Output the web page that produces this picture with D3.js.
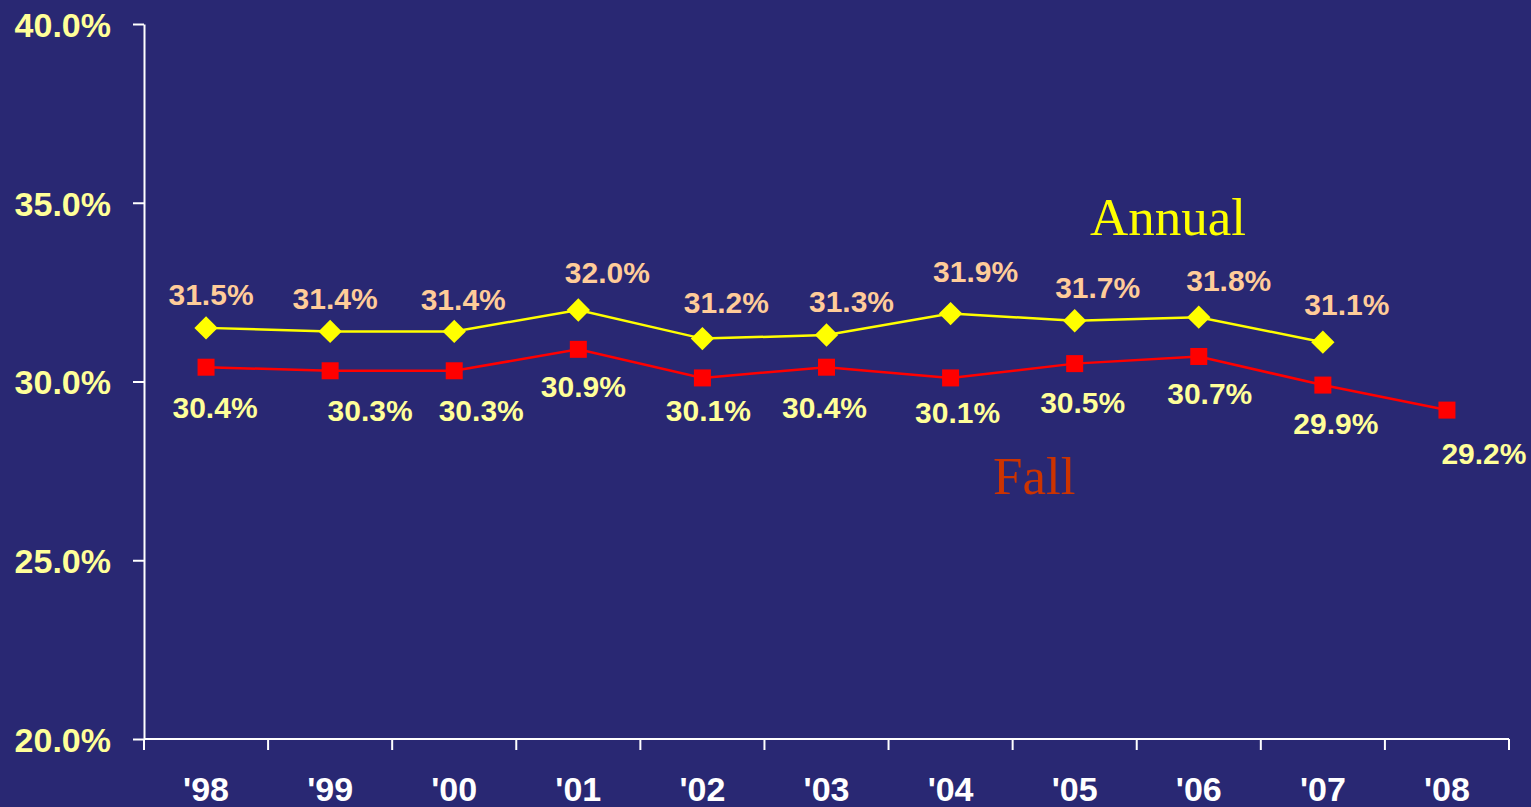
<!DOCTYPE html>
<html>
<head>
<meta charset="utf-8">
<script src="https://cdn.jsdelivr.net/npm/d3@7/dist/d3.min.js"></script>
<style>
  html, body { margin: 0; padding: 0; background: #292873; }
  svg { display: block; }
</style>
</head>
<body>
<svg id="chart" width="1531" height="807"></svg>
<script>
// ---- data ----
const years = ["'98", "'99", "'00", "'01", "'02", "'03", "'04", "'05", "'06", "'07", "'08"];
const annualValues = [31.5, 31.4, 31.4, 32.0, 31.2, 31.3, 31.9, 31.7, 31.8, 31.1, null];
const fallValues = [30.4, 30.3, 30.3, 30.9, 30.1, 30.4, 30.1, 30.5, 30.7, 29.9, 29.2];
const yTicks = [20, 25, 30, 35, 40];
const seriesNames = ["Annual", "Fall"];

// label nudges (styling, px)
const annualLabelDx = [5, 5, 9, 29, 24, 25, 25, 23, 30, 24];
const annualLabelDy = [-23, -22, -21, -27, -26, -23, -32, -23, -26, -27];
const fallLabelDx = [9, 40, 27, 5, 6, -2, 7, 8, 11, 13, 37];
const fallLabelDy = [51, 50, 50, 48, 43, 51, 45, 49, 48, 49, 54];

// ---- layout ----
const svg = d3.select("#chart");
const plotLeft = 144, plotRight = 1509, plotTop = 24, plotBottom = 739;

const x = d3.scaleBand().domain(years).range([plotLeft, plotRight]).padding(0);
const y = d3.scaleLinear().domain([20, 40]).range([plotBottom, plotTop]);
const cx = d => x(d) + x.bandwidth() / 2;

svg.append("rect").attr("width", 1531).attr("height", 807).attr("fill", "#292873");

// y axis
const yAxis = svg.append("g").attr("transform", `translate(${plotLeft},0)`)
  .call(d3.axisLeft(y).tickValues(yTicks).tickSize(11).tickSizeOuter(0).tickFormat(d => d.toFixed(1) + "%"));
yAxis.select(".domain").attr("stroke", "#fff").attr("stroke-width", 2);
yAxis.selectAll(".tick line").attr("stroke", "#fff").attr("stroke-width", 2);
yAxis.selectAll(".tick text")
  .attr("x", -33).attr("dy", "0.36em")
  .attr("fill", "#FFFF99")
  .style("font-family", "'Liberation Sans', Arial, sans-serif")
  .style("font-weight", "bold").style("font-size", "34px");

// x axis
const xAxisG = svg.append("g").attr("transform", `translate(0,${plotBottom})`);
xAxisG.append("line").attr("x1", plotLeft).attr("x2", plotRight).attr("y1", 0).attr("y2", 0)
  .attr("stroke", "#fff").attr("stroke-width", 2);
const edges = years.map(d => x(d)).concat([x(years[years.length - 1]) + x.bandwidth()]);
xAxisG.selectAll("line.tk").data(edges).enter().append("line").attr("class", "tk")
  .attr("x1", d => d).attr("x2", d => d).attr("y1", 0).attr("y2", 11)
  .attr("stroke", "#fff").attr("stroke-width", 2);
xAxisG.selectAll("text").data(years).enter().append("text")
  .attr("x", d => cx(d)).attr("y", 62)
  .attr("text-anchor", "middle")
  .attr("fill", "#fff")
  .style("font-family", "'Liberation Sans', Arial, sans-serif")
  .style("font-weight", "bold").style("font-size", "34px")
  .text(d => d);

// lines
const annualPts = years.map((d, i) => ({ k: d, v: annualValues[i], i })).filter(p => p.v != null);
const fallPts = years.map((d, i) => ({ k: d, v: fallValues[i], i })).filter(p => p.v != null);
const line = d3.line().x(p => cx(p.k)).y(p => y(p.v));

svg.append("path").datum(fallPts).attr("d", line)
  .attr("fill", "none").attr("stroke", "#FF0000").attr("stroke-width", 2.5);
svg.append("path").datum(annualPts).attr("d", line)
  .attr("fill", "none").attr("stroke", "#FFFF00").attr("stroke-width", 2.5);

// markers
const sq = 17;
svg.selectAll("rect.fall").data(fallPts).enter().append("rect").attr("class", "fall")
  .attr("x", p => cx(p.k) - sq / 2).attr("y", p => y(p.v) - sq / 2)
  .attr("width", sq).attr("height", sq).attr("fill", "#FF0000");
const diamond = d3.symbol().type(d3.symbolSquare).size(16.5 * 16.5);
svg.selectAll("path.ann").data(annualPts).enter().append("path").attr("class", "ann")
  .attr("d", diamond)
  .attr("transform", p => `translate(${cx(p.k)},${y(p.v)}) rotate(45)`)
  .attr("fill", "#FFFF00");

// value labels
const labelFont = "'Liberation Sans', Arial, sans-serif";
svg.selectAll("text.annlab").data(annualPts).enter().append("text").attr("class", "annlab")
  .attr("x", p => cx(p.k) + annualLabelDx[p.i]).attr("y", p => y(p.v) + annualLabelDy[p.i])
  .attr("text-anchor", "middle").attr("fill", "#FFCC99")
  .style("font-family", labelFont).style("font-weight", "bold").style("font-size", "30px")
  .text(p => p.v.toFixed(1) + "%");
svg.selectAll("text.falllab").data(fallPts).enter().append("text").attr("class", "falllab")
  .attr("x", p => cx(p.k) + fallLabelDx[p.i]).attr("y", p => y(p.v) + fallLabelDy[p.i])
  .attr("text-anchor", "middle").attr("fill", "#FFFF99")
  .style("font-family", labelFont).style("font-weight", "bold").style("font-size", "30px")
  .text(p => p.v.toFixed(1) + "%");

// series name labels
svg.append("text").attr("x", 1090).attr("y", 235)
  .attr("fill", "#FFFF00")
  .style("font-family", "'Liberation Serif', 'Times New Roman', serif").style("font-size", "53px")
  .text(seriesNames[0]);
svg.append("text").attr("x", 993).attr("y", 494)
  .attr("fill", "#CC3300")
  .style("font-family", "'Liberation Serif', 'Times New Roman', serif").style("font-size", "53px")
  .text(seriesNames[1]);
</script>
</body>
</html>
